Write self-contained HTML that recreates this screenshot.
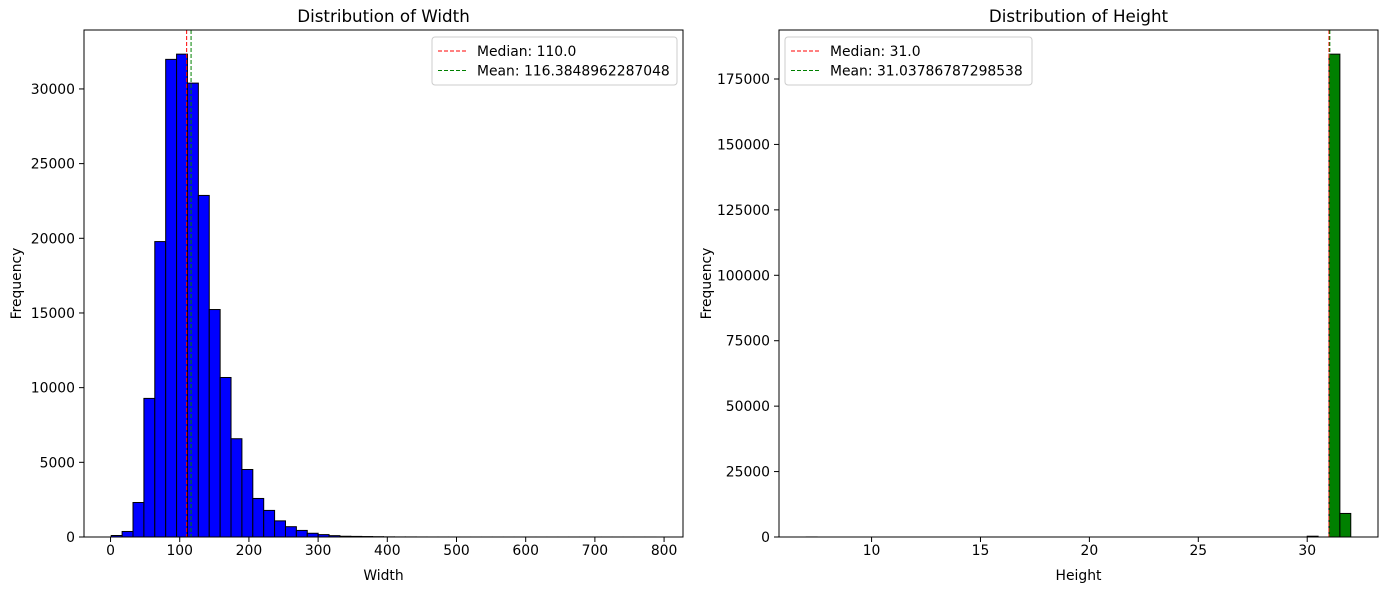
<!DOCTYPE html>
<html><head><meta charset="utf-8"><style>
body{margin:0;background:#fff;}
svg{display:block;font-family:"DejaVu Sans","Liberation Sans",sans-serif;}
</style></head><body>
<svg id="chart" width="1389" height="590" xmlns="http://www.w3.org/2000/svg"></svg>
<script>
// Width histogram data
const widthCounts = [100,370,2310,9280,19780,31980,32330,30390,22870,15230,10680,6580,4520,2580,1780,1080,690,440,250,160,90,50,40,30,20,10,5,5,3,2,2,1,1,1,1,1,1,1,1,1,1,1,1,1,1,1,1,1,1,1];
const widthMin = 1, widthMax = 788;
const widthXTicks = [0,100,200,300,400,500,600,700,800];
const widthYTicks = [0,5000,10000,15000,20000,25000,30000];
const widthMedian = 110.0, widthMean = 116.3848962287048;
// Height histogram data
const heightCounts = [20,0,0,0,0,0,0,0,0,0,0,0,0,0,0,0,0,0,0,0,0,0,0,0,0,0,0,0,0,0,0,0,0,0,0,0,0,0,0,0,0,0,0,0,0,0,300,0,184500,9000];
const heightMin = 7, heightMax = 32;
const heightXTicks = [10,15,20,25,30];
const heightYTicks = [0,25000,50000,75000,100000,125000,150000,175000];
const heightMedian = 31.0, heightMean = 31.03786787298538;

const NS="http://www.w3.org/2000/svg";
const svg=document.getElementById('chart');
function mk(tag,attrs,parent,text){const e=document.createElementNS(NS,tag);for(const k in attrs)e.setAttribute(k,attrs[k]);if(text!==undefined)e.textContent=text;(parent||svg).appendChild(e);return e;}
const FS=13.9;
function panel(o){
  const g=mk('g',{});
  
  
  const L=o.x0,R=o.x1,T=30,B=537;
  const n=o.counts.length, span=o.max-o.min;
  const xlo=o.min-0.05*span, xhi=o.max+0.05*span;
  const X=v=>L+(v-xlo)/(xhi-xlo)*(R-L);
  const ymax=Math.max(...o.counts)*1.05;
  const Y=v=>B-v/ymax*(B-T);
  const bw=span/n;
  o.counts.forEach((c,i)=>{
    if(c<=0)return;
    const x1=X(o.min+i*bw),x2=X(o.min+(i+1)*bw);
    const r=mk('rect',{x:x1,y:Y(c),width:x2-x1,height:B-Y(c),fill:o.color,stroke:'#000','stroke-width':1},g);
    
    
  });
  const med=mk('line',{x1:X(o.median),x2:X(o.median),y1:T,y2:B,stroke:'red','stroke-width':1,'stroke-dasharray':'4,2'},g);
  
  
  const mn=mk('line',{x1:X(o.mean),x2:X(o.mean),y1:T,y2:B,stroke:'green','stroke-width':1,'stroke-dasharray':'4,2'},g);
  
  
  const fr=mk('rect',{x:L,y:T,width:R-L,height:B-T,fill:'none',stroke:'#000','stroke-width':1},g);
  
  
  o.xticks.forEach(t=>{
    const x=X(t);
    mk('line',{x1:x,x2:x,y1:B,y2:B+5,stroke:'#000'},g);
    const tl=mk('text',{x:x,y:B+18,'font-size':FS,'text-anchor':'middle'},g,String(t));
    
    
  });
  o.yticks.forEach(t=>{
    const y=Y(t);
    mk('line',{x1:L-5,x2:L,y1:y,y2:y,stroke:'#000'},g);
    const tl=mk('text',{x:L-9,y:y+5,'font-size':FS,'text-anchor':'end'},g,String(t));
    
    
  });
  const ti=mk('text',{x:(L+R)/2,y:22,'font-size':16.7,'text-anchor':'middle'},g,o.title);
  
  
  const xl=mk('text',{x:(L+R)/2,y:580,'font-size':FS,'text-anchor':'middle'},g,o.xlabel);
  
  
  const yl=mk('text',{x:0,y:0,'font-size':FS,'text-anchor':'middle',transform:`translate(${o.ylabX},${(T+B)/2}) rotate(-90)`},g,'Frequency');
  
  
  const lg=mk('g',{},g);
  
  
  mk('rect',{x:o.legX,y:37,width:o.legW,height:48,rx:3,fill:'#fff',stroke:'#ccc'},lg);
  [['red','Median: '+o.medText],['green','Mean: '+o.meanText]].forEach((e,i)=>{
    const y=51+i*19.5;
    mk('line',{x1:o.legX+6,x2:o.legX+34,y1:y,y2:y,stroke:e[0],'stroke-dasharray':'4,2'},lg);
    const t=mk('text',{x:o.legX+45,y:y+5,'font-size':FS},lg,e[1]);
    
    
  });
}
panel({name:'width-histogram',x0:84,x1:683,counts:widthCounts,min:widthMin,max:widthMax,xticks:widthXTicks,yticks:widthYTicks,median:widthMedian,mean:widthMean,color:'#0000ff',title:'Distribution of Width',xlabel:'Width',ylabX:21,legX:432,legW:245,medText:'110.0',meanText:'116.3848962287048'});
panel({name:'height-histogram',x0:779,x1:1378,counts:heightCounts,min:heightMin,max:heightMax,xticks:heightXTicks,yticks:heightYTicks,median:heightMedian,mean:heightMean,color:'#008000',title:'Distribution of Height',xlabel:'Height',ylabX:711,legX:785,legW:247,medText:'31.0',meanText:'31.03786787298538'});
</script>
</body></html>
